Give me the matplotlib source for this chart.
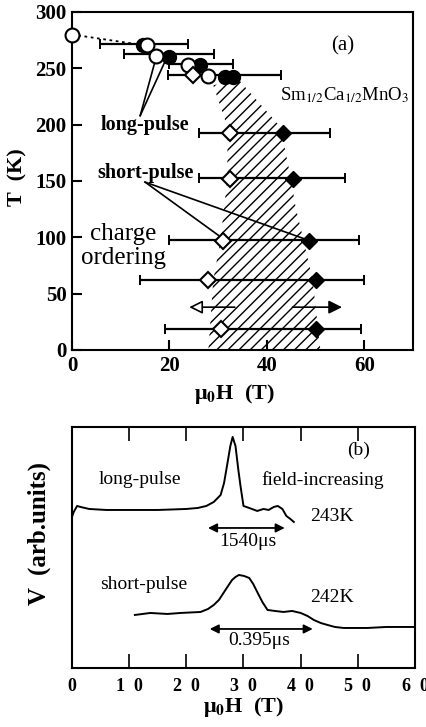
import numpy as np
import matplotlib
matplotlib.use('Agg')
import matplotlib.pyplot as plt

plt.rcParams['font.family'] = ['Liberation Serif', 'DejaVu Serif']
plt.rcParams['mathtext.fontset'] = 'stix'
plt.rcParams['hatch.linewidth'] = 1.0

# ---- panel (a) data: T vs mu0H ----
start_H = [0.0]
start_T = [280]
dot_H = [0.0, 14.0]
dot_T = [280, 271]

long_open_H = [15.5, 17.3, 23.9, 28.0]
long_open_T = [271, 261, 253, 243]
long_fill_H = [14.6, 20.0, 26.3, 31.5, 33.0]
long_fill_T = [271, 260, 253, 242, 242]

short_open_H = [24.9, 32.5, 32.5, 31.1, 28.0, 30.5]
short_open_T = [244, 193, 152, 97, 62, 19]
short_fill_H = [43.4, 45.3, 48.6, 50.0, 50.0]
short_fill_T = [193, 152, 97, 62, 19]

bar_T = [271.5, 263, 254, 244, 193, 152.6, 97.6, 62, 18.6]
bar_lo = [5.8, 10.7, 20.0, 19.8, 26.1, 26.1, 20.0, 14.0, 19.0]
bar_hi = [23.9, 29.2, 33.0, 43.0, 53.0, 56.0, 59.0, 60.0, 59.3]

# hatched coexistence region (outline)
region_H = [29.0, 31.9, 31.9, 30.5, 29.0, 28.0, 51.0, 49.4, 47.5, 45.9, 44.9, 42.8, 34.2]
region_T = [235, 198, 153, 98, 62, 0, 0, 62, 98, 127, 153, 198, 240]

# ---- panel (b) data: V vs mu0H ----
lp_H = [0.0, 0.3, 0.9, 1.5, 3, 6, 10, 15, 20, 22, 23.5, 24.8, 26.0, 26.6, 27.2,
        27.7, 28.1, 28.6, 29.1, 29.5, 30.0, 31.0, 32.4, 33.5, 34.4, 35.3, 36.0,
        36.8, 37.5, 38.2, 38.8]
lp_V = [151, 156, 162, 161, 159, 158, 158, 158, 159, 160, 162, 166, 173, 185, 205,
        222, 231, 222, 198, 181, 162, 160, 157, 159, 158, 161, 162, 159, 152, 149, 146]

sp_H = [11.0, 13.7, 16.7, 19.0, 22.5, 23.8, 24.8, 25.7, 26.5, 27.3, 28.0, 28.6, 29.2,
        30.1, 31.0, 31.7, 32.4, 33.3, 34.2, 35.5, 37.0, 38.5, 40.0, 41.2, 42.3,
        43.5, 44.7, 46.0, 47.5, 51.7, 55.0, 60.0]
sp_V = [53, 55, 54, 55, 56, 59, 63, 68, 75, 82, 88, 91, 93, 92, 90, 84, 76, 66, 58,
        57, 56, 57, 55, 52, 48, 45, 43, 41, 40, 40, 41, 41]

fig = plt.figure(figsize=(4.27, 7.27), dpi=100)
ax1 = fig.add_axes([0.1686, 0.5186, 0.7986, 0.4649])
ax2 = fig.add_axes([0.1686, 0.0812, 0.8033, 0.3315])

# ---------- panel (a) ----------
poly = plt.Polygon(list(zip(region_H, region_T)), closed=True, fill=False,
                   hatch='///', edgecolor='black', linewidth=0)
ax1.add_patch(poly)

bar_T = np.array(bar_T)
lo = np.array(bar_lo)
hi = np.array(bar_hi)
ax1.errorbar((lo + hi) / 2, bar_T, xerr=(hi - lo) / 2, fmt='none', ecolor='black',
             elinewidth=1.6, capsize=3.5, capthick=1.4, zorder=2)

ax1.plot(dot_H, dot_T, color='black', linestyle=(0, (1.5, 2)), lw=1.3, zorder=2)
ax1.plot(long_fill_H, long_fill_T, 'o', ms=10, mfc='black', mec='black', zorder=3)
ax1.plot(long_open_H, long_open_T, 'o', ms=10, mfc='white', mec='black', mew=1.5, zorder=4)
ax1.plot(start_H, start_T, 'o', ms=10, mfc='white', mec='black', mew=1.5, zorder=4,
         clip_on=False)
ax1.plot(short_fill_H, short_fill_T, 'D', ms=8.5, mfc='black', mec='black', zorder=3)
ax1.plot(short_open_H, short_open_T, 'D', ms=8.5, mfc='white', mec='black', mew=1.5, zorder=4)

# leader lines
ax1.plot([14.0, 17.1], [208, 257], color='black', lw=1.2)
ax1.plot([14.0, 19.3], [208, 258], color='black', lw=1.2)
ax1.plot([15.0, 30.3], [149, 101], color='black', lw=1.2)
ax1.plot([15.0, 47.5], [149, 99], color='black', lw=1.2)

# direction arrows
ax1.annotate('', xy=(23.5, 38), xytext=(34, 38),
             arrowprops=dict(arrowstyle='-|>', color='black', lw=1.2,
                             mutation_scale=20, fc='white'))
ax1.annotate('', xy=(56, 38), xytext=(44.7, 38),
             arrowprops=dict(arrowstyle='-|>', color='black', lw=1.2,
                             mutation_scale=20, fc='black'))

ax1.text(55.5, 270, '(a)', fontsize=15, ha='center', va='center')
ax1.text(56, 226, r'Sm$_{1/2}$Ca$_{1/2}$MnO$_3$', fontsize=13.5, ha='center', va='center')
ax1.text(15, 200, 'long-pulse', fontsize=14.5, fontweight='bold', ha='center', va='center')
ax1.text(15, 157, 'short-pulse', fontsize=14.5, fontweight='bold', ha='center', va='center')
ax1.text(10.5, 103, 'charge', fontsize=18, ha='center', va='center')
ax1.text(10.5, 82, 'ordering', fontsize=18, ha='center', va='center')

ax1.set_xlim(0, 70)
ax1.set_ylim(0, 300)
ax1.set_xticks([0, 20, 40, 60])
ax1.set_yticks([0, 50, 100, 150, 200, 250, 300])
ax1.tick_params(direction='in', length=7, width=1.5, labelsize=15, pad=4)
for lab in ax1.get_xticklabels() + ax1.get_yticklabels():
    lab.set_fontweight('bold')
for s in ax1.spines.values():
    s.set_linewidth(1.5)
ax1.set_xlabel(r'μ$_\mathbf{0}$H  (T)', fontsize=16, fontweight='bold')
ax1.xaxis.set_label_coords(0.475, -0.095)
ax1.set_ylabel('T  (K)', fontsize=16, fontweight='bold')
ax1.yaxis.set_label_coords(-0.13, 0.51)

# ---------- panel (b) ----------
ax2.plot(lp_H, lp_V, color='black', lw=1.4)
ax2.plot(sp_H, sp_V, color='black', lw=1.4)

ax2.annotate('', xy=(23.3, 140), xytext=(37.7, 140),
             arrowprops=dict(arrowstyle='<|-|>', color='black', lw=1.3,
                             mutation_scale=13, fc='black'))
ax2.annotate('', xy=(23.6, 39), xytext=(42.6, 39),
             arrowprops=dict(arrowstyle='<|-|>', color='black', lw=1.3,
                             mutation_scale=13, fc='black'))

ax2.text(50.2, 218, '(b)', fontsize=14, ha='center', va='center')
ax2.text(11.9, 188, 'long-pulse', fontsize=14, ha='center', va='center')
ax2.text(43.8, 188, 'field-increasing', fontsize=14, ha='center', va='center')
ax2.text(45.5, 151, '243K', fontsize=14, ha='center', va='center')
ax2.text(30.7, 126, '1540μs', fontsize=14, ha='center', va='center')
ax2.text(12.5, 83, 'short-pulse', fontsize=14, ha='center', va='center')
ax2.text(45.5, 70, '242K', fontsize=14, ha='center', va='center')
ax2.text(32.7, 27, '0.395μs', fontsize=14, ha='center', va='center')

ax2.set_xlim(0, 60)
ax2.set_ylim(0, 241)
ax2.set_xticks([0, 10, 20, 30, 40, 50, 60])
ax2.set_xticklabels(['0', '1  0', '2  0', '3  0', '4  0', '5  0', '6  0'])
ax2.set_yticks([])
ax2.tick_params(axis='x', direction='in', length=10, width=1.2, top=True,
                labelsize=13, pad=7)
for lab in ax2.get_xticklabels():
    lab.set_fontweight('bold')
for s in ax2.spines.values():
    s.set_linewidth(1.5)
ax2.set_xlabel(r'μ$_\mathbf{0}$H  (T)', fontsize=16, fontweight='bold', labelpad=0)
ax2.set_ylabel('V  (arb.units)', fontsize=18, fontweight='bold')
ax2.yaxis.set_label_coords(-0.06, 0.56)

fig.savefig('out.png', dpi=100)
